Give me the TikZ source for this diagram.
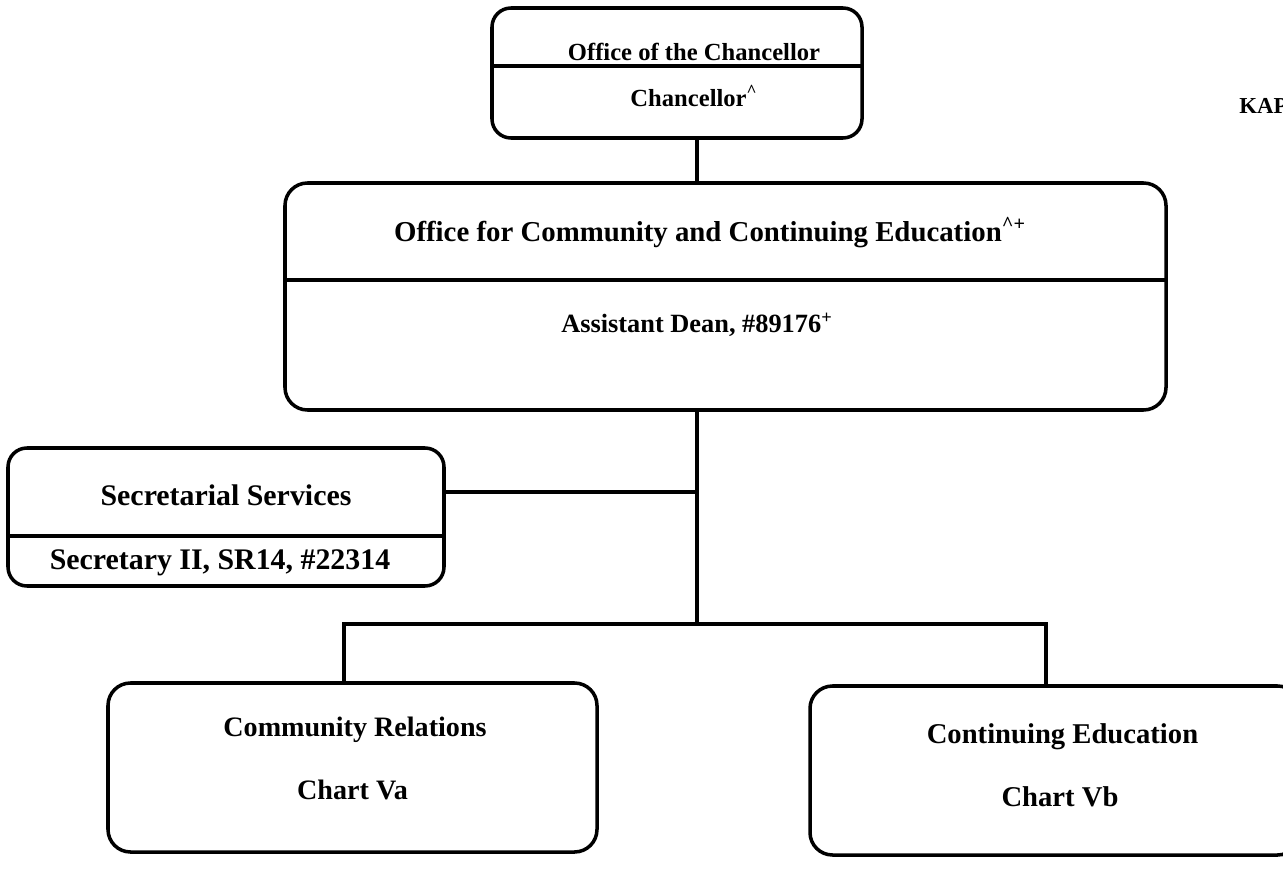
\documentclass[tikz,border=0pt]{standalone}
\usepackage{fontspec}
\setmainfont{Liberation Serif}
\usetikzlibrary{positioning}
\tikzset{
  unitbox/.style={draw, line width=2pt, rounded corners=0.45cm, rectangle, inner sep=0pt},
  smallbox/.style={unitbox, rounded corners=0.38cm},
  divline/.style={line width=1.8pt},
  link/.style={line width=2pt},
  lbl/.style={font=\bfseries, inner sep=0pt, anchor=center}
}
\begin{document}
\begin{tikzpicture}
      \useasboundingbox (0,0) rectangle (25.66,-17.64);
      % boxes
      \node[smallbox, minimum width=7.4cm, minimum height=2.6cm] (chan) at (13.54,-1.46) {};
      \node[unitbox, minimum width=17.62cm, minimum height=4.54cm] (occe) at (14.51,-5.93) {};
      \node[smallbox, minimum width=8.72cm, minimum height=2.76cm] (sec) at (4.52,-10.34) {};
      \node[unitbox, minimum width=9.78cm, minimum height=3.38cm] (cr) at (7.05,-15.35) {};
      \node[unitbox, minimum width=9.8cm, minimum height=3.38cm] (ce) at (21.1,-15.41) {};
      % dividers
      \draw[divline] (chan.west |- 0,-1.32) -- (chan.east |- 0,-1.32);
      \draw[divline] (occe.west |- 0,-5.6) -- (occe.east |- 0,-5.6);
      \draw[divline] (sec.west |- 0,-10.72) -- (sec.east |- 0,-10.72);
      % texts
      \node[lbl, font=\fontsize{14}{16}\selectfont\bfseries] (chantop) at (13.88,-1.04) {Office of the Chancellor};
      \node[lbl, font=\fontsize{14}{16}\selectfont\bfseries] (chanbot) at (13.88,-1.92) {Chancellor\textsuperscript{\textasciicircum}};
      \node[lbl, font=\fontsize{16.4}{18}\selectfont\bfseries] (occetop) at (14.2,-4.66) {Office for Community and Continuing Education\textsuperscript{\textasciicircum+}};
      \node[lbl, font=\fontsize{15}{17}\selectfont\bfseries] (occebot) at (13.94,-6.5) {Assistant Dean, \#89176\textsuperscript{+}};
      \node[lbl, font=\fontsize{17}{19}\selectfont\bfseries] (sectop) at (4.52,-9.9) {Secretarial Services};
      \node[lbl, font=\fontsize{17}{19}\selectfont\bfseries] (secbot) at (4.4,-11.26) {Secretary II, SR14, \#22314};
      \node[lbl, font=\fontsize{16}{18}\selectfont\bfseries] (crtop) at (7.1,-14.6) {Community Relations};
      \node[lbl, font=\fontsize{16}{18}\selectfont\bfseries] (crbot) at (7.05,-15.8) {Chart Va};
      \node[lbl, font=\fontsize{16.3}{18}\selectfont\bfseries] (cetop) at (21.25,-14.74) {Continuing Education};
      \node[lbl, font=\fontsize{16.3}{18}\selectfont\bfseries] (cebot) at (21.2,-15.94) {Chart Vb};
      \node[lbl, anchor=west, font=\fontsize{13}{15}\selectfont\bfseries] (kap) at (24.78,-2.12) {KAP};
      % connectors
      \coordinate (spine) at (13.94,0);
      \coordinate (secjn) at (13.94,-9.84);
      \coordinate (jn) at (13.94,-12.48);
      \coordinate (busL) at (6.88,-12.48);
      \coordinate (busR) at (20.92,-12.48);
      \begin{scope}[link]
        \draw (chan.south -| spine) to (occe.north -| spine);
        \draw (occe.south -| spine) to (jn);
        \draw (sec.east |- secjn) to (secjn);
        \draw (cr.north -| busL) -- (busL) -- (busR) -- (ce.north -| busR);
      \end{scope}
    \end{tikzpicture}
\end{document}
